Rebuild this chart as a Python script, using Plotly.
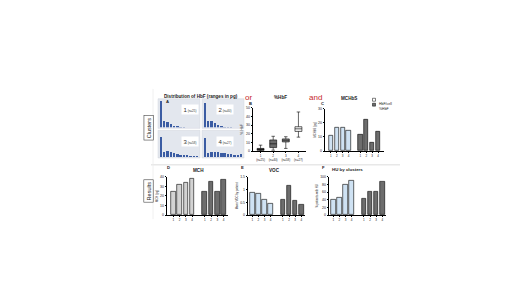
import plotly.graph_objects as go

# ---------------- data ----------------
hist_c1 = [100, 24, 22, 14, 6, 3, 1, 1, 0, 0, 0, 0]
hist_c2 = [95, 26, 24, 18, 9, 4, 2, 1, 1, 0, 0, 0]
hist_c3 = [80, 20, 22, 21, 16, 10, 6, 4, 3, 2, 1, 1]
hist_c4 = [75, 14, 18, 20, 19, 16, 14, 11, 9, 8, 7, 12]
hist_labels = ["1", "2", "3", "4"]
cluster_n = ["(n=25)", "(n=40)", "(n=58)", "(n=27)"]

box_q1 = [0.8, 4.0, 10.5, 22.6]
box_med = [2.0, 8.3, 12.4, 25.6]
box_q3 = [3.0, 12.8, 14.0, 28.0]
box_lo = [0.0, 1.0, 3.0, 16.0]
box_hi = [6.8, 17.0, 16.5, 45.0]

clusters = ["1", "2", "3", "4"]
mchbs_hbf_cell = [11.2, 16.7, 16.7, 14.6]
mchbs_pct_hbf = [11.9, 22.3, 5.6, 14.0]
mch_hbf_cell = [24.3, 31.3, 33.4, 38.3]
mch_pct_hbf = [24.7, 34.8, 24.7, 37.2]
voc_hbf_cell = [0.88, 0.85, 0.62, 0.45]
voc_pct_hbf = [0.62, 1.14, 0.58, 0.39]
hu_hbf_cell = [40, 45, 78, 90]
hu_pct_hbf = [42, 60, 60, 87]

# ---------------- helpers ----------------
W, H = 520, 292
def X(p): return p / W
def Y(p): return 1 - p / H

FONT = "Liberation Sans, Arial, sans-serif"
LIGHT_BLUE = "#cfe2f3"
DARK = "#6d6d6d"
LIGHT_GRAY = "#d3d3d3"

fig = go.Figure()
layout_axes = {}

def axname(i):
    return ("xaxis", "yaxis") if i == 1 else (f"xaxis{i}", f"yaxis{i}")

def tref(i):
    return ("x", "y") if i == 1 else (f"x{i}", f"y{i}")

def set_axes(i, box, xcfg, ycfg):
    x0, x1, y0, y1 = box
    xa, ya = axname(i)
    xr, yr = tref(i)
    base = dict(showgrid=False, zeroline=False, showline=True, linecolor="black",
                linewidth=0.6, ticks="outside", ticklen=1.5, tickwidth=0.5,
                tickcolor="black", tickfont=dict(size=3.5, color="#222"))
    xd = dict(base); xd.update(domain=[X(x0), X(x1)], anchor=yr); xd.update(xcfg)
    yd = dict(base); yd.update(domain=[Y(y1), Y(y0)], anchor=xr); yd.update(ycfg)
    layout_axes[xa] = xd
    layout_axes[ya] = yd

shapes = []
annotations = []

# ---------------- panel A: histograms ----------------
hboxes = [(151, 191, 91, 119), (195, 235, 91, 119), (151, 191, 123, 149), (195, 235, 123, 149)]
hists = [hist_c1, hist_c2, hist_c3, hist_c4]
for k, (hb, hv) in enumerate(zip(hboxes, hists)):
    i = k + 1
    xr, yr = tref(i)
    shapes.append(dict(type="rect", xref="paper", yref="paper", x0=X(hb[0] - 1), x1=X(hb[1] + 1),
                       y0=Y(hb[3] + 1), y1=Y(hb[2] - 1), fillcolor="#e3e7ee",
                       line=dict(color="#d0d5dd", width=0.5), layer="below"))
    fig.add_trace(go.Bar(x=list(range(len(hv))), y=hv, marker_color="#3b5ca3",
                         marker_line_width=0, width=0.7, xaxis=xr, yaxis=yr, showlegend=False))
    set_axes(i, hb, dict(range=[-0.6, len(hv) - 0.4], visible=False),
             dict(range=[0, 105], visible=False))
    annotations.append(dict(xref="paper", yref="paper", x=X(hb[0] + 22), y=Y(hb[2] + 10),
                            text=f"<span style='font-size:6px'>{hist_labels[k]}</span> {cluster_n[k]}",
                            showarrow=False, bgcolor="white", font=dict(size=3, color="#333"),
                            borderpad=1.5))

# ---------------- panel B: boxplot ----------------
box_fill = ["#3a3a3a", "#6a6a6a", "#8a8a8a", "#f2f2f2"]
for k in range(4):
    fig.add_trace(go.Box(x=[k + 1], q1=[box_q1[k]], median=[box_med[k]], q3=[box_q3[k]],
                         lowerfence=[box_lo[k]], upperfence=[box_hi[k]],
                         fillcolor=box_fill[k], line=dict(color="black", width=0.6),
                         width=0.55, xaxis="x5", yaxis="y5", showlegend=False, boxpoints=False))
set_axes(5, (245, 298, 99, 143),
         dict(range=[0.4, 4.6], tickvals=[1, 2, 3, 4],
              ticktext=[f"{c}<br>{n}" for c, n in zip(clusters, cluster_n)], tickfont=dict(size=3)),
         dict(range=[0, 50], tickvals=[0, 10, 20, 30, 40, 50],
              title=dict(text="% HbF", font=dict(size=3.5), standoff=2)))

# ---------------- grouped bar panels ----------------
light_x = [1, 2, 3, 4]
dark_x = [6, 7, 8, 9]
tick_all = light_x + dark_x
tick_txt = clusters + clusters

def bar_panel(i, box, light_vals, dark_vals, light_color, yrange, ytick, ytitle, xrange):
    xr, yr = tref(i)
    fig.add_trace(go.Bar(x=light_x, y=light_vals, width=0.72, marker_color=light_color,
                         marker_line=dict(color="black", width=0.6), xaxis=xr, yaxis=yr,
                         showlegend=False))
    fig.add_trace(go.Bar(x=dark_x, y=dark_vals, width=0.72, marker_color=DARK,
                         marker_line=dict(color="black", width=0.6), xaxis=xr, yaxis=yr,
                         showlegend=False))
    set_axes(i, box, dict(range=xrange, tickvals=tick_all, ticktext=tick_txt, tickfont=dict(size=3)),
             dict(range=yrange, tickvals=ytick,
                  title=dict(text=ytitle, font=dict(size=2.8), standoff=1.5)))

bar_panel(6, (317, 376, 100, 143), mchbs_hbf_cell, mchbs_pct_hbf, LIGHT_BLUE, [0, 30],
          [0, 10, 20, 30], "MCHbS (pg)", [0, 10])
bar_panel(7, (159, 220, 169, 208), mch_hbf_cell, mch_pct_hbf, LIGHT_GRAY, [0, 40],
          [0, 10, 20, 30, 40], "MCH (pg)", [0, 9.7])
bar_panel(8, (240, 297, 169, 208), voc_hbf_cell, voc_pct_hbf, LIGHT_BLUE, [0, 1.5],
          [0, 0.5, 1.0, 1.5], "Mean VOC by patient", [0.3, 9.6])
bar_panel(9, (321, 378, 169, 208), hu_hbf_cell, hu_pct_hbf, LIGHT_BLUE, [0, 100],
          [0, 20, 40, 60, 80, 100], "% patients with HU", [0.3, 9.6])

# ---------------- texts ----------------
def txt(x, y, s, size=5, bold=True, color="#222", **kw):
    d = dict(xref="paper", yref="paper", x=X(x), y=Y(y), showarrow=False,
             text=(f"<b>{s}</b>" if bold else s), font=dict(size=size, color=color, family=FONT))
    d.update(kw)
    annotations.append(d)

txt(193, 83, "Distribution of HbF (ranges in pg)", 4.6)
txt(240, 82, "or", 8, bold=False, color="#c62828")
txt(272, 84, "%HbF", 4.6)
txt(307, 82, "and", 8, bold=False, color="#c62828")
txt(341, 85, "MCHbS", 4.6)
txt(190, 163, "MCH", 4.6)
txt(266, 163, "VOC", 4.6)
txt(357, 162, "HU by clusters", 4.4)
for s, x, y in [("A", 156, 88), ("B", 242, 90), ("C", 314, 90), ("D", 157, 160), ("E", 234, 160), ("F", 315, 160)]:
    txt(x, y, s, 4.2)

txt(136, 120, "Clusters", 5.5, bold=False, textangle=-90, bordercolor="#444",
    borderwidth=0.6, borderpad=1.5)
txt(136, 184, "Results", 5.5, bold=False, textangle=-90, bordercolor="#444",
    borderwidth=0.6, borderpad=1.5)

# legend of panel C
shapes.append(dict(type="rect", xref="paper", yref="paper", x0=X(364.5), x1=X(367.5),
                   y0=Y(92.5), y1=Y(89.5), fillcolor="white", line=dict(color="black", width=0.5)))
shapes.append(dict(type="rect", xref="paper", yref="paper", x0=X(364.5), x1=X(367.5),
                   y0=Y(97.5), y1=Y(94.5), fillcolor=DARK, line=dict(color="black", width=0.5)))
txt(369, 91, "HbF/cell", 3.5, bold=False, xanchor="left")
txt(369, 96, "%HbF", 3.5, bold=False, xanchor="left")

# separators
shapes.append(dict(type="line", xref="paper", yref="paper", x0=X(143), x1=X(392), y0=Y(157), y1=Y(157),
                   line=dict(color="#dcdcdc", width=1)))
shapes.append(dict(type="line", xref="paper", yref="paper", x0=X(145), x1=X(145), y0=Y(80), y1=Y(212),
                   line=dict(color="#ececec", width=0.8)))

fig.update_layout(width=W, height=H, margin=dict(l=0, r=0, t=0, b=0),
                  paper_bgcolor="white", plot_bgcolor="rgba(0,0,0,0)",
                  font=dict(family=FONT, size=4, color="#222"),
                  showlegend=False, bargap=0, shapes=shapes, annotations=annotations,
                  **layout_axes)
fig.write_html("out.html")
